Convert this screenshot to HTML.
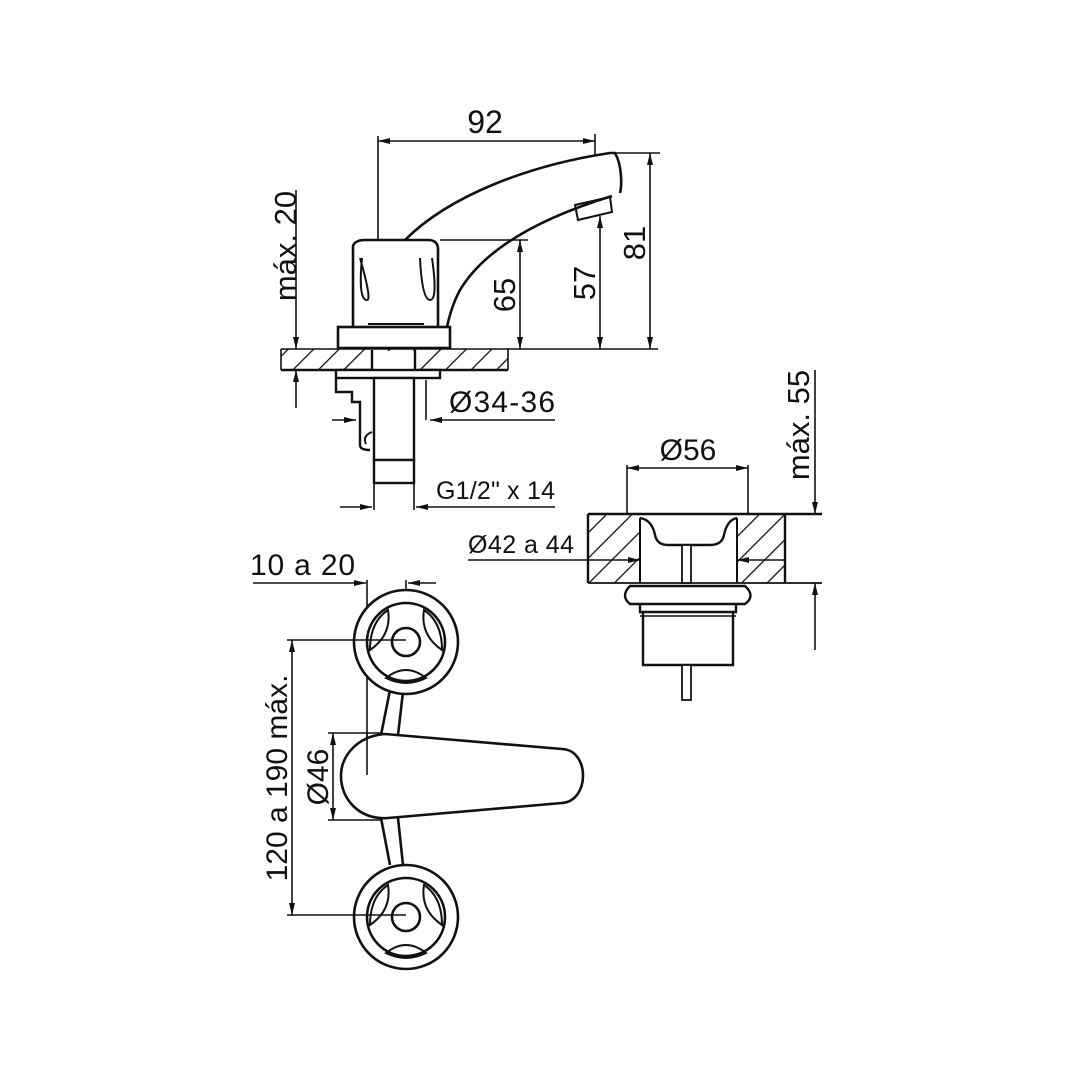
<!DOCTYPE html>
<html><head><meta charset="utf-8"><style>
html,body{margin:0;padding:0;background:#fff;}
svg{display:block;}
text{font-family:"Liberation Sans",sans-serif;fill:#111;}
</style></head><body>
<svg width="1080" height="1080" viewBox="0 0 1080 1080" xmlns="http://www.w3.org/2000/svg">
<defs>
<marker id="a" viewBox="0 0 12 6" refX="12" refY="3" markerWidth="12" markerHeight="6" markerUnits="userSpaceOnUse" orient="auto"><path d="M0,0 L12,3 L0,6 Z" fill="#111"/></marker>
<pattern id="h" width="18" height="18" patternUnits="userSpaceOnUse" patternTransform="rotate(45)"><line x1="0" y1="0" x2="0" y2="18" stroke="#111" stroke-width="2.6"/></pattern>
</defs>
<g stroke="#111" fill="none" stroke-width="1.6">
<!-- ===== TOP VIEW ===== -->
<line x1="378" y1="136" x2="378" y2="240"/>
<line x1="595" y1="134" x2="595" y2="156"/>
<line x1="500" y1="141" x2="595" y2="141" marker-end="url(#a)"/>
<line x1="500" y1="141" x2="378" y2="141" marker-end="url(#a)"/>
<g stroke-width="2.6">
<path d="M405 240 C450 195 530 165 610 153 L615 153 C622 165 622 185 620 193"/>
<path d="M612 196 C560 212 490 240 460 290 C452 305 449 318 447 327"/>
<path d="M575 205 L610 197 L612 212 L578 220 Z" stroke-width="2"/>
<path d="M353 327 L353 246 Q355 240 365 240 L428 240 Q437 240 438 248 L438 327"/>
<path d="M360 258 Q372 300 367 300 Q358 300 362 258" stroke-width="2"/>
<path d="M420 258 Q422 300 430 300 Q438 300 432 258" stroke-width="2"/>
<line x1="368" y1="324" x2="424" y2="324" stroke-width="2"/>
<rect x="338" y="327" width="112" height="21"/>
</g>
<rect x="281" y="349" width="227" height="21" fill="url(#h)" stroke="none"/>
<line x1="281" y1="349" x2="658" y2="349"/>
<line x1="281" y1="370" x2="508" y2="370" stroke-width="2.4"/>
<line x1="281" y1="349" x2="281" y2="370"/><line x1="508" y1="349" x2="508" y2="370"/>
<rect x="370" y="351" width="48" height="18" fill="#fff" stroke="none"/>
<g stroke-width="2.4">
<line x1="372" y1="350" x2="372" y2="370"/><line x1="415" y1="350" x2="415" y2="370"/>
<rect x="336" y="370" width="104" height="8" fill="#fff"/>
<path d="M336 378 L336 392 L352 392 L352 402 L360 402 L360 445 Q360 450 370 450"/>
<rect x="374" y="378" width="40" height="82" fill="#fff"/>
<rect x="374" y="460" width="40" height="23" fill="#fff"/>
<line x1="374" y1="483" x2="374" y2="510" stroke-width="1.6"/><line x1="414" y1="483" x2="414" y2="510" stroke-width="1.6"/>
<path d="M372 432 Q362 436 366 444" stroke-width="2"/>
</g>
<line x1="426" y1="380" x2="426" y2="420"/>
<line x1="440" y1="240" x2="528" y2="240"/>
<line x1="520" y1="300" x2="520" y2="240" marker-end="url(#a)"/>
<line x1="520" y1="300" x2="520" y2="349" marker-end="url(#a)"/>
<line x1="600" y1="280" x2="600" y2="216" marker-end="url(#a)"/>
<line x1="600" y1="280" x2="600" y2="349" marker-end="url(#a)"/>
<line x1="616" y1="153" x2="660" y2="153"/>
<line x1="650" y1="250" x2="650" y2="153" marker-end="url(#a)"/>
<line x1="650" y1="250" x2="650" y2="349" marker-end="url(#a)"/>
<line x1="296" y1="190" x2="296" y2="349" marker-end="url(#a)"/>
<line x1="296" y1="408" x2="296" y2="370" marker-end="url(#a)"/>
<line x1="555" y1="420" x2="430" y2="420" marker-end="url(#a)"/>
<line x1="332" y1="420" x2="356" y2="420" marker-end="url(#a)"/>
<line x1="555" y1="507" x2="416" y2="507" marker-end="url(#a)"/>
<line x1="340" y1="507" x2="372" y2="507" marker-end="url(#a)"/>

<!-- ===== DRAIN ===== -->
<line x1="627" y1="465" x2="627" y2="514"/><line x1="748" y1="465" x2="748" y2="514"/>
<line x1="690" y1="468" x2="627" y2="468" marker-end="url(#a)"/>
<line x1="690" y1="468" x2="748" y2="468" marker-end="url(#a)"/>
<rect x="588" y="514" width="52" height="69" fill="url(#h)" stroke="none"/>
<rect x="737" y="514" width="48" height="69" fill="url(#h)" stroke="none"/>
<g stroke-width="2.4">
<line x1="588" y1="514" x2="822" y2="514"/>
<line x1="588" y1="583" x2="822" y2="583" stroke-width="1.8"/>
<line x1="588" y1="514" x2="588" y2="583"/>
<line x1="785" y1="514" x2="785" y2="583"/>
<line x1="640" y1="518" x2="640" y2="583" stroke-width="2"/>
<line x1="737" y1="518" x2="737" y2="583" stroke-width="2"/>
<path d="M640 518 Q652 520 655 535 Q657 545 668 545 L710 545 Q722 545 724 535 Q727 520 737 518"/>
<rect x="682" y="545" width="9" height="38" fill="#fff" stroke-width="1.8"/>
<path d="M630 586 L745 586 Q756 596 745 604 L630 604 Q620 596 630 586 Z" fill="#fff"/>
<path d="M640 604 L640 612 L736 612 L736 604"/>
<line x1="640" y1="616" x2="736" y2="616" stroke-width="1.6"/>
<path d="M643 612 L643 665 L733 665 L733 612"/>
<rect x="682" y="665" width="9" height="35" fill="#fff" stroke-width="1.8"/>
</g>
<line x1="815" y1="370" x2="815" y2="514" marker-end="url(#a)"/>
<line x1="815" y1="650" x2="815" y2="583" marker-end="url(#a)"/>
<line x1="468" y1="560" x2="640" y2="560" marker-end="url(#a)"/>
<line x1="785" y1="560" x2="737" y2="560" marker-end="url(#a)"/>

<!-- ===== BOTTOM VIEW ===== -->
<line x1="253" y1="583" x2="366" y2="583" marker-end="url(#a)"/>
<line x1="367" y1="580" x2="367" y2="775"/>
<line x1="436" y1="583" x2="408" y2="583" marker-end="url(#a)"/>
<line x1="406" y1="580" x2="406" y2="640"/>
<g stroke-width="2.6">
<line x1="390" y1="690" x2="381" y2="735"/><line x1="403" y1="692" x2="398" y2="735"/>
<line x1="381" y1="818" x2="390" y2="865"/><line x1="398" y1="818" x2="403" y2="865"/>
<circle cx="406" cy="642" r="52" fill="#fff"/>
<circle cx="406" cy="642" r="39"/>
<circle cx="406" cy="642" r="14"/>
<circle cx="406" cy="917" r="52" fill="#fff"/>
<circle cx="406" cy="917" r="39"/>
<circle cx="406" cy="917" r="14"/>
<path d="M388 610 Q370 622 370 650 Q392 635 388 610 Z" stroke-width="2"/>
<path d="M424 610 Q442 622 442 650 Q420 635 424 610 Z" stroke-width="2"/>
<path d="M386 678 Q406 662 426 678 Q406 688 386 678 Z" stroke-width="2"/>
<path d="M388 885 Q370 897 370 925 Q392 910 388 885 Z" stroke-width="2"/>
<path d="M424 885 Q442 897 442 925 Q420 910 424 885 Z" stroke-width="2"/>
<path d="M386 953 Q406 937 426 953 Q406 963 386 953 Z" stroke-width="2"/>
<path d="M385 734 C358 736 341 755 341 776 C341 800 360 820 388 818 L562 803 C590 801 590 750 562 749 Z" fill="#fff"/>
</g>
<line x1="367" y1="733" x2="367" y2="775"/>
<line x1="287" y1="640" x2="406" y2="640"/>
<line x1="287" y1="915" x2="406" y2="915"/>
<line x1="292" y1="778" x2="292" y2="640" marker-end="url(#a)"/>
<line x1="292" y1="778" x2="292" y2="915" marker-end="url(#a)"/>
<line x1="328" y1="733" x2="380" y2="733"/>
<line x1="328" y1="820" x2="380" y2="820"/>
<line x1="333" y1="776" x2="333" y2="733" marker-end="url(#a)"/>
<line x1="333" y1="776" x2="333" y2="820" marker-end="url(#a)"/>
</g>
<g>
<text x="485" y="133" text-anchor="middle" font-size="32">92</text>
<text transform="translate(296,246) rotate(-90)" text-anchor="middle" font-size="31">máx. 20</text>
<text transform="translate(515,295) rotate(-90)" text-anchor="middle" font-size="31">65</text>
<text transform="translate(595,283) rotate(-90)" text-anchor="middle" font-size="31">57</text>
<text transform="translate(645,243) rotate(-90)" text-anchor="middle" font-size="31">81</text>
<text x="449" y="412" font-size="30" textLength="106">Ø34-36</text>
<text x="436" y="499" font-size="25" textLength="119">G1/2" x 14</text>
<text x="688" y="460" text-anchor="middle" font-size="30">Ø56</text>
<text transform="translate(809,425) rotate(-90)" text-anchor="middle" font-size="31">máx. 55</text>
<text x="468" y="553" font-size="25" textLength="106">Ø42 a 44</text>
<text x="250" y="575" font-size="30" textLength="105">10 a 20</text>
<text transform="translate(287,778) rotate(-90)" text-anchor="middle" font-size="30">120 a 190 máx.</text>
<text transform="translate(328,777) rotate(-90)" text-anchor="middle" font-size="30">Ø46</text>
</g>
</svg>
</body></html>
